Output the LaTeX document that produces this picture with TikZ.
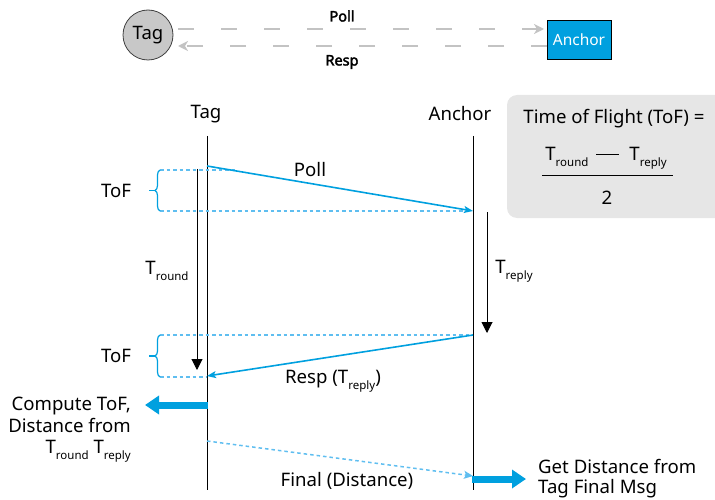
\documentclass[tikz,border=0pt]{standalone}
\usepackage{fontspec}
\setmainfont{Noto Sans}[AutoFakeBold=2.5]
\usetikzlibrary{arrows.meta,decorations.pathreplacing,calc}
\definecolor{dwblue}{RGB}{0,160,223}
\definecolor{dotblue}{RGB}{95,190,240}
\definecolor{hdrgray}{RGB}{195,195,195}
\definecolor{boxgray}{RGB}{230,230,230}
\definecolor{tagfill}{RGB}{200,200,200}
\newcommand\subtxt[1]{\raisebox{-0.6ex}{\fontsize{11.5}{12}\selectfont #1}}
\begin{document}
\begin{tikzpicture}[x=1pt,y=-1pt,
  font=\fontsize{18.6}{21.5}\selectfont,
  txt/.style={inner sep=0pt, anchor=center},
  lifeline/.style={line width=1pt, black},
  timearrow/.style={line width=1pt, black, -{Triangle[length=11pt,width=11pt]}},
  msg/.style={line width=1.6pt, dwblue, -{Stealth[length=9pt,width=7pt,inset=2pt]}},
  dotline/.style={line width=1.5pt, dotblue, dash pattern=on 3.5pt off 3pt},
  hdrline/.style={line width=2.8pt, hdrgray, dash pattern=on 16pt off 27pt, -{Stealth[length=10pt,width=10pt,inset=3pt]}},
  bigarrow/.style={line width=7pt, dwblue, -{Triangle[length=14pt,width=18pt]}},
  bracestyle/.style={dwblue, line width=1.2pt, decorate, decoration={brace, amplitude=5pt}},
]
\useasboundingbox (0,0) rectangle (715,500);

% ---- header ----
\node[circle, draw=black!75, line width=0.8pt, fill=tagfill, minimum size=50pt, inner sep=0pt, font=\fontsize{18.5}{20}\selectfont] (htag) at (148,35) {Tag};
\node[draw=black, line width=1pt, fill=dwblue, text=white, minimum width=64pt, minimum height=39pt, inner sep=0pt, font=\fontsize{15.5}{17}\selectfont] (hanchor) at (579,40) {Anchor};
\coordinate (hpollA) at (178,29);
\coordinate (hpollB) at (544,29);
\coordinate (hrespA) at (547,46);
\coordinate (hrespB) at (178,46);
\draw[hdrline] (hpollA) -- (hpollB);
\draw[hdrline] (hrespA) -- (hrespB);
\node[txt, font=\fontsize{14.5}{16}\selectfont\bfseries] (hpoll) at (342,16) {Poll};
\node[txt, font=\fontsize{14.5}{16}\selectfont\bfseries] (hresp) at (342,62) {Resp};

% ---- formula box ----
\node[fill=boxgray, rounded corners=10pt, minimum width=230pt, minimum height=123pt, inner sep=0pt] (fbox) at (622,156.5) {};
\node[txt] (ftitle) at (614,119) {Time of Flight (ToF) =};
\node[txt] (fnum) at (606,158) {T\subtxt{round}\hspace{8pt}\rule[0.5ex]{23pt}{1pt}\hspace{10pt}T\subtxt{reply}};
\coordinate (fracL) at (542,176);
\coordinate (fracR) at (673,176);
\draw[line width=1pt] (fracL) -- (fracR);
\node[txt] (fden) at (607,198) {2};

% ---- lifelines ----
\node[txt] (tagl) at (206,114) {Tag};
\node[txt] (anchl) at (460,114) {Anchor};
\coordinate (tagtop) at (207,136);
\coordinate (tagbot) at (207,490);
\coordinate (anctop) at (473,136);
\coordinate (ancbot) at (473,490);
\draw[lifeline] (tagtop) -- (tagbot);
\draw[lifeline] (anctop) -- (ancbot);

% ---- time arrows ----
\coordinate (trS) at (197,169);
\coordinate (trE) at (197,370);
\draw[timearrow] (trS) -- (trE);
\node[txt] (trl) at (167,271) {T\subtxt{round}};
\coordinate (tpS) at (487,212);
\coordinate (tpE) at (487,333);
\draw[timearrow] (tpS) -- (tpE);
\node[txt] (tpl) at (514,271) {T\subtxt{reply}};

% ---- ToF 1 ----
\coordinate (d1a) at (160,170);
\coordinate (d1b) at (237,170);
\coordinate (d2a) at (160,211);
\coordinate (d2b) at (471,211);
\draw[dotline] (d1a) -- (d1b);
\draw[dotline] (d2a) -- (d2b);
\draw[bracestyle] (d2a) -- (d1a);
\coordinate (b1tip) at (155,190.5);
\coordinate (b1end) at (149,190.5);
\draw[dwblue, line width=1.2pt] (b1tip) -- (b1end);
\node[txt] (tof1) at (116,191) {ToF};

% Poll
\coordinate (pollS) at (207,166);
\coordinate (pollE) at (473,211);
\draw[msg] (pollS) -- (pollE);
\node[txt] (polll) at (310,170) {Poll};

% ---- ToF 2 ----
\coordinate (d3a) at (160,335);
\coordinate (d3b) at (473,335);
\coordinate (d4a) at (160,377);
\coordinate (d4b) at (207,377);
\draw[dotline] (d3a) -- (d3b);
\draw[dotline] (d4a) -- (d4b);
\draw[bracestyle] (d4a) -- (d3a);
\coordinate (b2tip) at (155,356);
\coordinate (b2end) at (149,356);
\draw[dwblue, line width=1.2pt] (b2tip) -- (b2end);
\node[txt] (tof2) at (116,356) {ToF};

% Resp
\coordinate (respS) at (473,335);
\coordinate (respE) at (207,376);
\draw[msg] (respS) -- (respE);
\node[txt] (respl) at (333,381) {Resp (T\subtxt{reply})};

% Compute
\coordinate (compS) at (208,405);
\coordinate (compE) at (145,405);
\draw[bigarrow] (compS) -- (compE);
\node[inner sep=0pt, anchor=north east, align=right] (compl) at (131,397) {Compute ToF,\\Distance from\\T\subtxt{round} T\subtxt{reply}};

% Final
\coordinate (finS) at (207,441);
\coordinate (finE) at (473,476);
\draw[dotline, -{Stealth[length=9pt,width=8pt,inset=2pt]}] (finS) -- (finE);
\node[txt] (finl) at (347,481) {Final (Distance)};

\coordinate (getS) at (472,479);
\coordinate (getE) at (526,479);
\draw[bigarrow] (getS) -- (getE);
\node[inner sep=0pt, anchor=north west, align=left, font=\fontsize{18.6}{20.5}\selectfont] (getl) at (538,459) {Get Distance from\\Tag Final Msg};
\end{tikzpicture}
\end{document}
